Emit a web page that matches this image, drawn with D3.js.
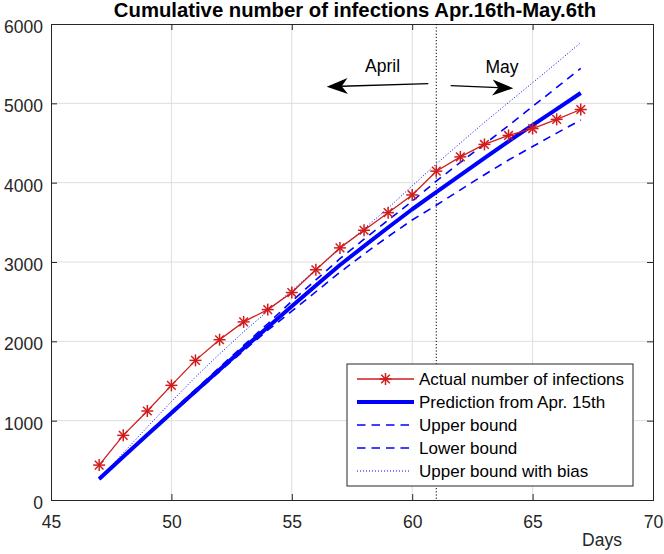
<!DOCTYPE html>
<html>
<head>
<meta charset="utf-8">
<script src="https://cdn.jsdelivr.net/npm/d3@7"></script>
<style>
  html, body { margin: 0; padding: 0; background: #fff; }
  svg { display: block; font-family: "Liberation Sans", Arial, Helvetica, sans-serif; }
</style>
</head>
<body>
<svg id="chart" width="664" height="554"></svg>
<script>
// ---------------- data ----------------
const days = [47,48,49,50,51,52,53,54,55,56,57,58,59,60,61,62,63,64,65,66,67];
const actual = [440,815,1122,1445,1760,2020,2245,2400,2615,2902,3178,3400,3622,3845,4145,4325,4482,4595,4682,4798,4922];
const prediction = [265,545,822,1097,1370,1643,1912,2178,2442,2703,2962,3200,3435,3665,3880,4095,4310,4520,4725,4928,5130];
const upperBound = [265,550,833,1113,1393,1672,1948,2222,2505,2775,3042,3287,3527,3766,4020,4255,4485,4720,4960,5200,5440];
const lowerBound = [265,541,815,1083,1350,1618,1882,2140,2380,2625,2870,3100,3320,3530,3715,3910,4100,4285,4455,4625,4790];
const upperBias = [265,592,920,1240,1550,1840,2120,2380,2640,2905,3165,3420,3680,3960,4235,4500,4760,5010,5260,5510,5765];

const xTicks = [45,50,55,60,65,70];
const yTicks = [0,1000,2000,3000,4000,5000,6000];
const xDomain = [45,70];
const yDomain = [0,6000];
const monthDivider = 61;

const titleText = "Cumulative number of infections Apr.16th-May.6th";
const xLabel = "Days";
const legendLabels = ["Actual number of infections","Prediction from Apr. 15th","Upper bound","Lower bound","Upper bound with bias"];

// annotation arrows [x1,y1 (tail), x2,y2 (tip)] in data units
const arrowLeft = [60.67, 5248, 56.45, 5210];
const arrowRight = [61.6, 5223, 64.2, 5190];
const labelApril = ["April", 58.77, 5391];
const labelMay = ["May", 63.73, 5388];

// ---------------- layout ----------------
const svg = d3.select("#chart");
const m = {left: 51, top: 24, right: 11, bottom: 54};
const W = 664 - m.left - m.right, H = 554 - m.top - m.bottom;
const x = d3.scaleLinear().domain(xDomain).range([0, W]);
const y = d3.scaleLinear().domain(yDomain).range([H, 0]);
const g = svg.append("g").attr("transform", `translate(${m.left},${m.top})`);

const axisColor = "#262626";
const gridColor = "#dedede";
const red = "#d01c1c";
const blue = "#0000ff";

// grid
g.append("g").selectAll("line").data(xTicks.slice(1,-1)).join("line")
  .attr("x1", d => x(d)).attr("x2", d => x(d)).attr("y1", 0).attr("y2", H)
  .attr("stroke", gridColor).attr("stroke-width", 1);
g.append("g").selectAll("line").data(yTicks.slice(1,-1)).join("line")
  .attr("y1", d => y(d)).attr("y2", d => y(d)).attr("x1", 0).attr("x2", W)
  .attr("stroke", gridColor).attr("stroke-width", 1);

// axes (ticks inward on all four sides)
const tl = 6;
const xb = d3.axisBottom(x).tickValues(xTicks).tickSize(-tl).tickPadding(14).tickFormat(d3.format("d"));
const xt = d3.axisTop(x).tickValues(xTicks).tickSize(-tl).tickFormat("");
const yl = d3.axisLeft(y).tickValues(yTicks).tickSize(-tl).tickPadding(14).tickFormat(d3.format("d"));
const yr = d3.axisRight(y).tickValues(yTicks).tickSize(-tl).tickFormat("");

function styleAxis(sel) {
  sel.select(".domain").attr("stroke", axisColor).attr("stroke-width", 1);
  sel.selectAll(".tick line").attr("stroke", axisColor).attr("stroke-width", 1);
  sel.selectAll(".tick text").attr("fill", axisColor).attr("font-size", "17.5px")
     .attr("font-family", '"Liberation Sans", Arial, sans-serif');
}
const gxb = g.append("g").attr("transform", `translate(0,${H})`).call(xb).call(styleAxis);
gxb.selectAll(".tick text").attr("dy", null).attr("y", 27.5);
g.append("g").call(xt).call(styleAxis);
const gyl = g.append("g").call(yl).call(styleAxis);
gyl.selectAll(".tick text").attr("dy", null).attr("x", -8).attr("y", 8.5);
g.append("g").attr("transform", `translate(${W},0)`).call(yr).call(styleAxis);

// month divider
g.append("line").attr("x1", x(monthDivider)).attr("x2", x(monthDivider)).attr("y1", 0).attr("y2", H)
  .attr("stroke", "#000").attr("stroke-width", 1).attr("stroke-dasharray", "1.2,2");

// series
const line = vals => d3.line().x((d,i) => x(days[i])).y(d => y(d))(vals);
g.append("path").attr("d", line(upperBias)).attr("fill","none").attr("stroke", blue).attr("stroke-width", 1).attr("stroke-dasharray","1,2");
g.append("path").attr("d", line(upperBound)).attr("fill","none").attr("stroke", blue).attr("stroke-width", 1.6).attr("stroke-dasharray","8,6");
g.append("path").attr("d", line(lowerBound)).attr("fill","none").attr("stroke", blue).attr("stroke-width", 1.6).attr("stroke-dasharray","8,6");
g.append("path").attr("d", line(prediction)).attr("fill","none").attr("stroke", blue).attr("stroke-width", 4).attr("stroke-linecap","butt").attr("stroke-linejoin","round");
g.append("path").attr("d", line(actual)).attr("fill","none").attr("stroke", red).attr("stroke-width", 1.3);

function star(sel, r) {
  const d = r * 0.72;
  sel.append("line").attr("x1", -r).attr("x2", r).attr("y1", 0).attr("y2", 0);
  sel.append("line").attr("x1", 0).attr("x2", 0).attr("y1", -r).attr("y2", r);
  sel.append("line").attr("x1", -d).attr("x2", d).attr("y1", -d).attr("y2", d);
  sel.append("line").attr("x1", -d).attr("x2", d).attr("y1", d).attr("y2", -d);
}
g.append("g").selectAll("g").data(actual).join("g")
  .attr("transform", (d,i) => `translate(${x(days[i])},${y(d)})`)
  .attr("stroke", red).attr("stroke-width", 1.5)
  .each(function() { star(d3.select(this), 6); });

// arrows
function arrow(a) {
  const x1 = x(a[0]), y1 = y(a[1]), x2 = x(a[2]), y2 = y(a[3]);
  const ang = Math.atan2(y2 - y1, x2 - x1);
  const L = 21, Wd = 8, back = 6;
  g.append("line").attr("x1", x1).attr("y1", y1)
    .attr("x2", x2 - Math.cos(ang) * (L - back)).attr("y2", y2 - Math.sin(ang) * (L - back))
    .attr("stroke", "#000").attr("stroke-width", 1.3);
  const ca = Math.cos(ang), sa = Math.sin(ang);
  const pt = (u, v) => [x2 + u * ca - v * sa, y2 + u * sa + v * ca];
  const pts = [pt(0,0), pt(-L, -Wd), pt(-L + back, 0), pt(-L, Wd)];
  g.append("path").attr("d", "M" + pts.map(p => p.join(",")).join("L") + "Z").attr("fill", "#000");
}
arrow(arrowLeft);
arrow(arrowRight);
[labelApril, labelMay].forEach(l => {
  g.append("text").attr("x", x(l[1])).attr("y", y(l[2])).attr("text-anchor","middle")
    .attr("font-size","17.5px").attr("fill","#000").text(l[0]);
});

// title & x label
svg.append("text").attr("x", 355).attr("y", 17).attr("text-anchor","middle")
  .attr("font-size","20.3px").attr("font-weight","bold").attr("fill","#000").text(titleText);
svg.append("text").attr("x", 602).attr("y", 546).attr("text-anchor","middle")
  .attr("font-size","17.5px").attr("fill", axisColor).text(xLabel);

// legend
const lg = svg.append("g");
const lx = 347, ly = 364, lw = 286, lh = 122;
lg.append("rect").attr("x", lx).attr("y", ly).attr("width", lw).attr("height", lh)
  .attr("fill", "#fff").attr("stroke", axisColor).attr("stroke-width", 1);
const rowY = [379, 402, 425, 448, 471];
const s0 = 357, s1 = 414;
const styles = [
  {stroke: red, w: 1.3, dash: null},
  {stroke: blue, w: 4, dash: null},
  {stroke: blue, w: 1.6, dash: "8.5,6"},
  {stroke: blue, w: 1.6, dash: "8.5,6"},
  {stroke: blue, w: 1, dash: "1,2"}
];
legendLabels.forEach((lab, i) => {
  const st = styles[i];
  const ln = lg.append("line").attr("x1", s0).attr("x2", i >= 2 ? 410 : s1).attr("y1", rowY[i]).attr("y2", rowY[i])
    .attr("stroke", st.stroke).attr("stroke-width", st.w);
  if (st.dash) ln.attr("stroke-dasharray", st.dash);
  if (i === 0) {
    lg.append("g").attr("transform", `translate(${(s0 + s1) / 2},${rowY[i]})`)
      .attr("stroke", red).attr("stroke-width", 1.5).call(s => star(s, 6));
  }
  lg.append("text").attr("x", 419).attr("y", rowY[i] + 6).attr("font-size","17px").attr("fill","#000").text(lab);
});
</script>
</body>
</html>
